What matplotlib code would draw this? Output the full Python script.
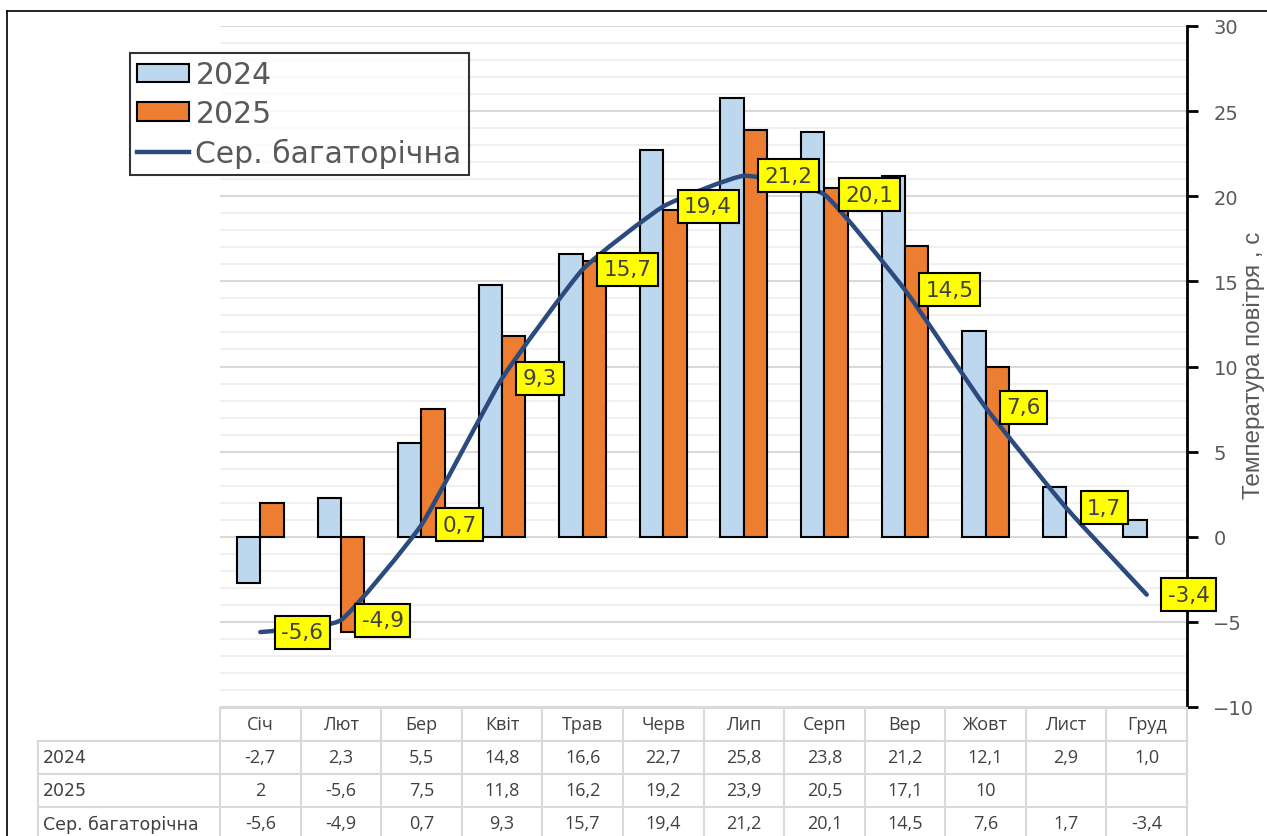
import numpy as np
import matplotlib
matplotlib.use("Agg")
import matplotlib.pyplot as plt
from matplotlib.patches import Patch
from matplotlib.lines import Line2D
from matplotlib.path import Path
from matplotlib.patches import PathPatch
import matplotlib.transforms as mtrans

months = ["Січ", "Лют", "Бер", "Квіт", "Трав", "Черв", "Лип", "Серп", "Вер", "Жовт", "Лист", "Груд"]
t2024 = [-2.7, 2.3, 5.5, 14.8, 16.6, 22.7, 25.8, 23.8, 21.2, 12.1, 2.9, 1.0]
t2025 = [2.0, -5.6, 7.5, 11.8, 16.2, 19.2, 23.9, 20.5, 17.1, 10.0, None, None]
avg = [-5.6, -4.9, 0.7, 9.3, 15.7, 19.4, 21.2, 20.1, 14.5, 7.6, 1.7, -3.4]
t2024_txt = ["-2,7", "2,3", "5,5", "14,8", "16,6", "22,7", "25,8", "23,8", "21,2", "12,1", "2,9", "1,0"]
t2025_txt = ["2", "-5,6", "7,5", "11,8", "16,2", "19,2", "23,9", "20,5", "17,1", "10", "", ""]
avg_txt = ["-5,6", "-4,9", "0,7", "9,3", "15,7", "19,4", "21,2", "20,1", "14,5", "7,6", "1,7", "-3,4"]
yticks = [-10, -5, 0, 5, 10, 15, 20, 25, 30]

W, H = 1267, 837
fig = plt.figure(figsize=(W / 100, H / 100), dpi=100)

def fx(px):
    return px / W

def fy(py):
    return 1 - py / H

left, right, top, bottom = 220, 1187, 27, 708
ax = fig.add_axes([fx(left), fy(bottom), fx(right) - fx(left), fy(top) - fy(bottom)])

x = np.arange(len(months))
bw = 0.29
C24 = "#BDD7EE"
C25 = "#ED7D31"
CL = "#2B4A7E"

v25 = [np.nan if v is None else v for v in t2025]
ax.bar(x - bw / 2, t2024, width=bw, color=C24, edgecolor="black", linewidth=1.5, zorder=3)
ax.bar(x + bw / 2, v25, width=bw, color=C25, edgecolor="black", linewidth=1.5, zorder=3)

# Smoothed line (Bezier, Excel-like smoothing with modest tension)
pts = np.column_stack([x, avg]).astype(float)
verts = [tuple(pts[0])]
codes = [Path.MOVETO]
n = len(pts)
k = 0.07
for i in range(n - 1):
    p0 = pts[i - 1] if i > 0 else pts[i]
    p1 = pts[i]
    p2 = pts[i + 1]
    p3 = pts[i + 2] if i + 2 < n else pts[i + 1]
    c1 = p1 + (p2 - p0) * k
    c2 = p2 - (p3 - p1) * k
    verts += [tuple(c1), tuple(c2), tuple(p2)]
    codes += [Path.CURVE4] * 3
ax.add_patch(PathPatch(Path(verts, codes), facecolor="none", edgecolor=CL, lw=3.2,
                       capstyle="round", joinstyle="round", zorder=4))

for xi, yi, s in zip(x, avg, avg_txt):
    ax.annotate(s, (xi, yi), xytext=(15, 0), textcoords="offset points",
                ha="left", va="center", fontsize=15.5, color="#404040",
                family="DejaVu Sans",
                bbox=dict(boxstyle="square,pad=0.3", fc="#FFFF00", ec="black", lw=1.5),
                zorder=6, annotation_clip=False)

ax.set_xlim(-0.5, 11.5)
ax.set_ylim(-10, 30)
ax.set_yticks(yticks)
ax.set_yticks(np.arange(-10, 31, 1), minor=True)
ax.grid(True, which="major", axis="y", color="#D9D9D9", lw=1.5, zorder=0)
ax.grid(True, which="minor", axis="y", color="#F0F0F0", lw=1.5, zorder=0)
ax.set_axisbelow(True)
for s in ["left", "top", "bottom"]:
    ax.spines[s].set_visible(False)
ax.spines["right"].set_linewidth(2)
ax.yaxis.tick_right()
ax.tick_params(axis="y", which="major", direction="out", length=8, width=2,
               labelsize=14, labelcolor="#595959", pad=11)
ax.tick_params(axis="y", which="minor", length=0)
ax.set_xticks([])
for lab in ax.get_yticklabels():
    lab.set_family("DejaVu Sans")
fig.text(fx(1254), fy(365), "Температура повітря , с", rotation=90, ha="center", va="center",
         fontsize=17.5, color="#595959", family=["Liberation Sans Narrow", "Liberation Sans"])

# Data table
blend = mtrans.blended_transform_factory(ax.transData, fig.transFigure)
figt = fig.transFigure
gc = "#D9D9D9"
row_edges = [709, 742, 775, 808, 841]
rows = [("", months), ("2024", t2024_txt), ("2025", t2025_txt), ("Сер. багаторічна", avg_txt)]
tfont = dict(family=["Open Sans", "DejaVu Sans"], fontsize=13, color="#404040")
hfont = dict(family="DejaVu Sans", fontsize=12.5, color="#404040")
for kk, ye in enumerate(row_edges):
    xs = fx(220) if kk == 0 else fx(38)
    fig.add_artist(Line2D([xs, fx(right)], [fy(ye), fy(ye)], transform=figt, color=gc, lw=1.5))
for i in range(13):
    fig.add_artist(Line2D([i - 0.5, i - 0.5], [fy(row_edges[0]), fy(row_edges[-1])],
                          transform=blend, color=gc, lw=1.5))
fig.add_artist(Line2D([fx(38), fx(38)], [fy(row_edges[1]), fy(row_edges[-1])],
                      transform=figt, color=gc, lw=1.5))
for r, (name, vals) in enumerate(rows):
    yc = fy((row_edges[r] + row_edges[r + 1]) / 2)
    if name:
        fig.text(fx(43), yc, name, ha="left", va="center", transform=figt, **hfont)
    for i, v in enumerate(vals):
        fig.text(i, yc, v, ha="center", va="center", transform=blend, **tfont)

# legend
handles = [Patch(facecolor=C24, edgecolor="black", lw=1.5),
           Patch(facecolor=C25, edgecolor="black", lw=1.5),
           Line2D([0], [0], color=CL, lw=3.2)]
leg = fig.legend(handles, ["2024", "2025", "Сер. багаторічна"], loc="upper left",
                 bbox_to_anchor=(fx(130), fy(54)), frameon=True, fancybox=False,
                 prop=dict(family="DejaVu Sans", size=21.5), labelcolor="#595959",
                 handlelength=1.72, handleheight=0.58, handletextpad=0.22,
                 borderpad=0.25, labelspacing=0.32, borderaxespad=0)
leg.get_frame().set_edgecolor("black")
leg.get_frame().set_linewidth(1.5)

# outer frame
fig.add_artist(Line2D([fx(7), fx(7)], [fy(12), 0], transform=figt, color="black", lw=1.2))
fig.add_artist(Line2D([fx(7), 1], [fy(12), fy(12)], transform=figt, color="black", lw=1.2))

fig.savefig("out.png", dpi=100)
